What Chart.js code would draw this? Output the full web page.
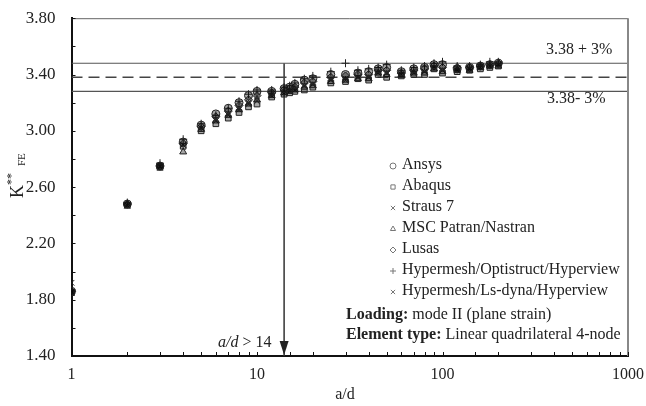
<!DOCTYPE html>
<html>
<head>
<meta charset="utf-8">
<script src="https://cdn.jsdelivr.net/npm/chart.js@4.4.1/dist/chart.umd.min.js"></script>
<style>
  html, body { margin: 0; padding: 0; background: #fff; }
  #wrap { width: 646px; height: 406px; }
</style>
</head>
<body>
<div id="wrap"><canvas id="kfe-chart"></canvas></div>
<script>
"use strict";

// a/d values of the meshes
var ratios = [1, 2, 3, 4, 5, 6, 7, 8, 9, 10, 12, 14, 15, 16, 18, 20, 25, 30, 35, 40, 45, 50, 60, 70, 80, 90, 100, 120, 140, 160, 180, 200];

// K** FE per code
var ansys    = [1.86, 2.48, 2.75, 2.92, 3.04, 3.12, 3.16, 3.20, 3.25, 3.28, 3.28, 3.30, 3.31, 3.33, 3.36, 3.37, 3.40, 3.40, 3.41, 3.42, 3.44, 3.45, 3.42, 3.44, 3.45, 3.47, 3.47, 3.44, 3.45, 3.46, 3.47, 3.48];
var abaqus   = [1.85, 2.47, 2.74, 2.89, 3.00, 3.05, 3.09, 3.13, 3.17, 3.19, 3.24, 3.26, 3.27, 3.28, 3.29, 3.31, 3.34, 3.35, 3.37, 3.36, 3.40, 3.38, 3.39, 3.40, 3.40, 3.44, 3.41, 3.42, 3.43, 3.44, 3.45, 3.46];
var straus   = [1.92, 2.47, 2.75, 2.90, 3.02, 3.08, 3.12, 3.16, 3.20, 3.23, 3.26, 3.28, 3.29, 3.30, 3.32, 3.33, 3.36, 3.37, 3.38, 3.38, 3.42, 3.41, 3.40, 3.42, 3.42, 3.45, 3.43, 3.44, 3.44, 3.45, 3.46, 3.47];
var msc      = [1.86, 2.48, 2.75, 2.85, 3.01, 3.07, 3.11, 3.15, 3.19, 3.22, 3.25, 3.27, 3.28, 3.29, 3.31, 3.32, 3.35, 3.36, 3.37, 3.37, 3.41, 3.40, 3.40, 3.41, 3.41, 3.44, 3.42, 3.43, 3.43, 3.45, 3.46, 3.46];
var lusas    = [1.86, 2.48, 2.75, 2.91, 3.03, 3.10, 3.14, 3.18, 3.22, 3.25, 3.27, 3.29, 3.30, 3.31, 3.34, 3.35, 3.38, 3.39, 3.40, 3.40, 3.43, 3.43, 3.41, 3.43, 3.44, 3.46, 3.45, 3.45, 3.45, 3.46, 3.47, 3.48];
var hyperOpt = [1.87, 2.49, 2.77, 2.94, 3.05, 3.11, 3.16, 3.21, 3.26, 3.29, 3.29, 3.31, 3.32, 3.34, 3.37, 3.39, 3.42, 3.48, 3.43, 3.44, 3.45, 3.47, 3.43, 3.45, 3.46, 3.48, 3.49, 3.46, 3.46, 3.47, 3.49, 3.49];
var hyperLs  = [1.85, 2.47, 2.74, 2.90, 3.02, 3.07, 3.11, 3.15, 3.19, 3.21, 3.25, 3.27, 3.28, 3.29, 3.32, 3.33, 3.36, 3.36, 3.38, 3.38, 3.41, 3.41, 3.40, 3.41, 3.42, 3.45, 3.43, 3.43, 3.44, 3.45, 3.46, 3.47];

var seriesNames  = ["Ansys", "Abaqus", "Straus 7", "MSC Patran/Nastran", "Lusas", "Hypermesh/Optistruct/Hyperview", "Hypermesh/Ls-dyna/Hyperview"];
var seriesValues = [ansys, abaqus, straus, msc, lusas, hyperOpt, hyperLs];
var seriesStyles = ["circle", "rect", "crossRot", "triangle", "rectRot", "cross", "crossRot"];

// reference level and limits
var refValue = 3.38;
var refUpper = 3.48;
var refLower = 3.28;
var limitRatio = 14;

var xTicks = [1, 10, 100, 1000];
var yMin = 1.4, yMax = 3.8;

var serif = "'Liberation Serif', 'Times New Roman', serif";

function pts(vals) {
	return ratios.map(function(r, i) { return { x: r, y: vals[i] }; });
}

var datasets = seriesNames.map(function(name, i) {
	return {
		type: 'scatter',
		label: name,
		data: pts(seriesValues[i]),
		pointStyle: seriesStyles[i],
		pointRadius: 4,
		pointBorderWidth: 1,
		borderColor: '#222',
		backgroundColor: 'rgba(0,0,0,0.35)',
		order: 1
	};
});

// horizontal guide lines and the a/d = 14 arrow
datasets.push({ type: 'line', label: 'upper', data: [{x: 1, y: refUpper}, {x: 1000, y: refUpper}], borderColor: '#555', borderWidth: 1.2, pointRadius: 0, order: 2 });
datasets.push({ type: 'line', label: 'ref', data: [{x: 1, y: refValue}, {x: 1000, y: refValue}], borderColor: '#444', borderWidth: 1.6, borderDash: [11, 6], pointRadius: 0, order: 2 });
datasets.push({ type: 'line', label: 'lower', data: [{x: 1, y: refLower}, {x: 1000, y: refLower}], borderColor: '#555', borderWidth: 1.2, pointRadius: 0, order: 2 });
datasets.push({ type: 'line', label: 'limit', data: [{x: limitRatio, y: refUpper}, {x: limitRatio, y: yMin}], borderColor: '#333', borderWidth: 1.5, pointRadius: 0, order: 2 });

// everything the library does not draw: inward ticks, frame, texts, legend
var decorations = {
	id: 'decorations',
	afterDraw: function(chart) {
		var ctx = chart.ctx;
		var a = chart.chartArea;
		var xs = chart.scales.x, ys = chart.scales.y;
		ctx.save();

		// frame top / right
		ctx.strokeStyle = '#666';
		ctx.lineWidth = 1;
		ctx.beginPath();
		ctx.moveTo(a.left, a.top + 0.5);
		ctx.lineTo(a.right, a.top + 0.5);
		ctx.stroke();
		ctx.strokeStyle = '#888';
		ctx.lineWidth = 2;
		ctx.beginPath();
		ctx.moveTo(a.right, a.top);
		ctx.lineTo(a.right, a.bottom);
		ctx.stroke();

		// inward ticks
		ctx.strokeStyle = '#111';
		ctx.lineWidth = 1;
		xs.ticks.forEach(function(t) {
			var px = Math.round(xs.getPixelForValue(t.value)) + 0.5;
			ctx.beginPath();
			ctx.moveTo(px, a.bottom);
			ctx.lineTo(px, a.bottom - 4);
			ctx.stroke();
		});
		ys.ticks.forEach(function(t) {
			var py = Math.round(ys.getPixelForValue(t.value)) + 0.5;
			ctx.beginPath();
			ctx.moveTo(a.left, py);
			ctx.lineTo(a.left + 4, py);
			ctx.stroke();
		});

		// arrow head at a/d = 14
		var ax = xs.getPixelForValue(limitRatio);
		ctx.fillStyle = '#222';
		ctx.beginPath();
		ctx.moveTo(ax, a.bottom - 1);
		ctx.lineTo(ax - 4.5, a.bottom - 15);
		ctx.lineTo(ax + 4.5, a.bottom - 15);
		ctx.closePath();
		ctx.fill();

		ctx.fillStyle = '#222';
		ctx.textBaseline = 'middle';

		// guide line labels
		ctx.font = '16px ' + serif;
		ctx.textAlign = 'left';
		ctx.fillText('3.38 + 3%', 546, 50);
		ctx.fillText('3.38- 3%', 547, 99);

		// a/d > 14
		ctx.font = 'italic 16px ' + serif;
		ctx.fillText('a/d', 218, 343);
		var w = ctx.measureText('a/d').width;
		ctx.font = '16px ' + serif;
		ctx.fillText(' > 14', 218 + w, 343);

		// axis titles
		ctx.font = '16px ' + serif;
		ctx.textAlign = 'center';
		ctx.fillText('a/d', 345, 395);

		ctx.save();
		ctx.translate(18, 190);
		ctx.rotate(-Math.PI / 2);
		ctx.textAlign = 'left';
		ctx.font = '18px ' + serif;
		ctx.fillText('K', -8, 0);
		ctx.font = '12px ' + serif;
		ctx.fillText('**', 5, -6);
		ctx.font = '11px ' + serif;
		ctx.fillText('FE', 24, 4);
		ctx.restore();

		// legend
		var lx = 393, tx = 402, ly = 165, step = 21;
		seriesNames.forEach(function(name, i) {
			var y = ly + i * step;
			ctx.strokeStyle = '#777';
			ctx.fillStyle = 'rgba(0,0,0,0)';
			ctx.lineWidth = 1;
			Chart.helpers.drawPoint(ctx, { pointStyle: seriesStyles[i], radius: 3, rotation: 0, borderWidth: 1 }, lx, y + 1);
			ctx.fillStyle = '#222';
			ctx.font = '16px ' + serif;
			ctx.textAlign = 'left';
			ctx.fillText(name, tx, y);
		});

		// loading / element notes
		var notes = [['Loading:', ' mode II (plane strain)', 315], ['Element type:', ' Linear quadrilateral 4-node', 335]];
		notes.forEach(function(n) {
			ctx.font = 'bold 16px ' + serif;
			ctx.fillText(n[0], 346, n[2]);
			var bw = ctx.measureText(n[0]).width;
			ctx.font = '16px ' + serif;
			ctx.fillText(n[1], 346 + bw, n[2]);
		});

		ctx.restore();
	}
};

new Chart(document.getElementById("kfe-chart"), {
	type: 'scatter',
	data: { datasets: datasets },
	options: {
		responsive: true,
		maintainAspectRatio: false,
		animation: false,
		layout: { padding: { top: 13, right: 18, left: 0, bottom: 0 } },
		plugins: {
			legend: { display: false },
			tooltip: { enabled: false }
		},
		scales: {
			x: {
				type: 'logarithmic',
				min: 1,
				max: 1000,
				afterFit: function(s) { s.height = 50; },
				grid: { display: false },
				border: { color: '#111', width: 2 },
				ticks: {
					autoSkip: false,
					maxRotation: 0,
					padding: 1,
					color: '#222',
					font: { family: serif, size: 16 },
					callback: function(v) {
						return xTicks.indexOf(v) >= 0 ? String(v) : '';
					}
				}
			},
			y: {
				min: yMin,
				max: yMax,
				afterFit: function(s) { s.width = 71.5; },
				grid: { display: false },
				border: { color: '#111', width: 2 },
				ticks: {
					stepSize: 0.2,
					autoSkip: false,
					padding: 8,
					color: '#222',
					font: { family: serif, size: 17 },
					callback: function(v) {
						var k = Math.round((v - yMin) / 0.2);
						return k % 2 === 0 ? v.toFixed(2) : '';
					}
				}
			}
		}
	},
	plugins: [decorations]
});
</script>
</body>
</html>
